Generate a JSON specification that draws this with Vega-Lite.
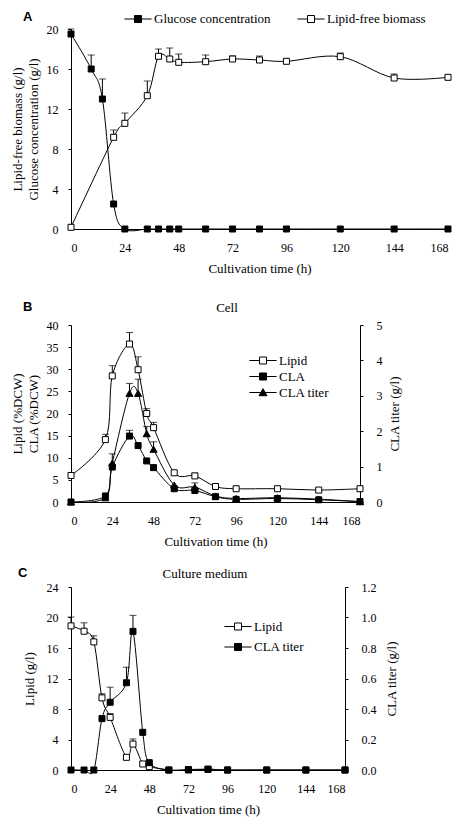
{
  "$schema": "https://vega.github.io/schema/vega-lite/v6.json",
  "padding": {"left": 11, "top": 10, "right": 5, "bottom": 5},
  "spacing": 19,
  "resolve": {"scale": {"fill": "independent", "shape": "independent", "stroke": "independent"}, "legend": {"fill": "independent", "shape": "independent", "stroke": "independent"}},
  "datasets": {
    "A": [
      {"s": "Glucose concentration", "t": 0, "v": 19.5, "hi": 20.0},
      {"s": "Glucose concentration", "t": 9, "v": 16.0, "hi": 17.4},
      {"s": "Glucose concentration", "t": 14, "v": 13.0, "hi": 15.0},
      {"s": "Glucose concentration", "t": 19, "v": 2.5},
      {"s": "Glucose concentration", "t": 24, "v": 0},
      {"s": "Glucose concentration", "t": 34, "v": 0},
      {"s": "Glucose concentration", "t": 39, "v": 0},
      {"s": "Glucose concentration", "t": 44, "v": 0},
      {"s": "Glucose concentration", "t": 48, "v": 0},
      {"s": "Glucose concentration", "t": 60, "v": 0},
      {"s": "Glucose concentration", "t": 72, "v": 0},
      {"s": "Glucose concentration", "t": 84, "v": 0},
      {"s": "Glucose concentration", "t": 96, "v": 0},
      {"s": "Glucose concentration", "t": 120, "v": 0},
      {"s": "Glucose concentration", "t": 144, "v": 0},
      {"s": "Glucose concentration", "t": 168, "v": 0},
      {"s": "Lipid-free biomass", "t": 0, "v": 0.17},
      {"s": "Lipid-free biomass", "t": 19, "v": 9.17, "hi": 9.9},
      {"s": "Lipid-free biomass", "t": 24, "v": 10.57, "hi": 11.6},
      {"s": "Lipid-free biomass", "t": 34, "v": 13.33, "hi": 14.8},
      {"s": "Lipid-free biomass", "t": 39, "v": 17.27, "hi": 18.0},
      {"s": "Lipid-free biomass", "t": 44, "v": 17.0, "hi": 18.1},
      {"s": "Lipid-free biomass", "t": 48, "v": 16.67, "hi": 17.5},
      {"s": "Lipid-free biomass", "t": 60, "v": 16.73, "hi": 17.4},
      {"s": "Lipid-free biomass", "t": 72, "v": 17.0, "hi": 17.3},
      {"s": "Lipid-free biomass", "t": 84, "v": 16.9, "hi": 17.3},
      {"s": "Lipid-free biomass", "t": 96, "v": 16.77},
      {"s": "Lipid-free biomass", "t": 120, "v": 17.23, "hi": 17.6},
      {"s": "Lipid-free biomass", "t": 144, "v": 15.1, "hi": 15.5},
      {"s": "Lipid-free biomass", "t": 168, "v": 15.17}
    ],
    "B": [
      {"s": "Lipid", "t": 0, "v": 6.0},
      {"s": "Lipid", "t": 20, "v": 14.1, "hi": 15.3},
      {"s": "Lipid", "t": 24, "v": 28.5, "hi": 30.8},
      {"s": "Lipid", "t": 34, "v": 35.7, "hi": 38.3},
      {"s": "Lipid", "t": 39, "v": 29.9, "hi": 32.8},
      {"s": "Lipid", "t": 44, "v": 20.0, "hi": 21.1},
      {"s": "Lipid", "t": 48, "v": 16.8, "hi": 18.0},
      {"s": "Lipid", "t": 60, "v": 6.6},
      {"s": "Lipid", "t": 72, "v": 5.9, "hi": 6.5},
      {"s": "Lipid", "t": 84, "v": 3.5},
      {"s": "Lipid", "t": 96, "v": 3.0},
      {"s": "Lipid", "t": 120, "v": 3.0},
      {"s": "Lipid", "t": 144, "v": 2.7},
      {"s": "Lipid", "t": 168, "v": 3.0},
      {"s": "CLA", "t": 0, "v": 0},
      {"s": "CLA", "t": 20, "v": 1.36},
      {"s": "CLA", "t": 24, "v": 7.9},
      {"s": "CLA", "t": 34, "v": 14.9, "hi": 16.2},
      {"s": "CLA", "t": 39, "v": 12.75},
      {"s": "CLA", "t": 44, "v": 9.28},
      {"s": "CLA", "t": 48, "v": 7.77},
      {"s": "CLA", "t": 60, "v": 3.0},
      {"s": "CLA", "t": 72, "v": 2.6},
      {"s": "CLA", "t": 84, "v": 1.2},
      {"s": "CLA", "t": 96, "v": 0.6},
      {"s": "CLA", "t": 120, "v": 0.8},
      {"s": "CLA", "t": 144, "v": 0.5},
      {"s": "CLA", "t": 168, "v": 0.1},
      {"s": "CLA titer", "t": 0, "v": 0},
      {"s": "CLA titer", "t": 20, "v": 0.12},
      {"s": "CLA titer", "t": 24, "v": 1.1, "hi": 1.36},
      {"s": "CLA titer", "t": 34, "v": 3.07, "hi": 3.35},
      {"s": "CLA titer", "t": 39, "v": 3.07, "hi": 3.47},
      {"s": "CLA titer", "t": 44, "v": 1.93, "hi": 2.13},
      {"s": "CLA titer", "t": 48, "v": 1.49, "hi": 1.7},
      {"s": "CLA titer", "t": 60, "v": 0.48},
      {"s": "CLA titer", "t": 72, "v": 0.42, "hi": 0.54},
      {"s": "CLA titer", "t": 84, "v": 0.17},
      {"s": "CLA titer", "t": 96, "v": 0.1},
      {"s": "CLA titer", "t": 120, "v": 0.12},
      {"s": "CLA titer", "t": 144, "v": 0.08},
      {"s": "CLA titer", "t": 168, "v": 0.01}
    ],
    "C": [
      {"s": "Lipid", "t": 0, "v": 18.9, "hi": 20.06},
      {"s": "Lipid", "t": 8, "v": 18.2, "hi": 19.3},
      {"s": "Lipid", "t": 14, "v": 16.8, "hi": 17.6},
      {"s": "Lipid", "t": 19, "v": 9.46, "hi": 10.0},
      {"s": "Lipid", "t": 24, "v": 6.9, "hi": 7.4},
      {"s": "Lipid", "t": 34, "v": 1.66},
      {"s": "Lipid", "t": 38, "v": 3.4, "hi": 4.07},
      {"s": "Lipid", "t": 44, "v": 0.79},
      {"s": "Lipid", "t": 48, "v": 0.44},
      {"s": "Lipid", "t": 60, "v": 0},
      {"s": "Lipid", "t": 72, "v": 0},
      {"s": "Lipid", "t": 84, "v": 0.1},
      {"s": "Lipid", "t": 96, "v": 0},
      {"s": "Lipid", "t": 120, "v": 0},
      {"s": "Lipid", "t": 144, "v": 0},
      {"s": "Lipid", "t": 168, "v": 0},
      {"s": "CLA  titer", "t": 0, "v": 0},
      {"s": "CLA  titer", "t": 8, "v": 0},
      {"s": "CLA  titer", "t": 14, "v": 0},
      {"s": "CLA  titer", "t": 19, "v": 0.337},
      {"s": "CLA  titer", "t": 24, "v": 0.444, "hi": 0.543},
      {"s": "CLA  titer", "t": 34, "v": 0.572, "hi": 0.674},
      {"s": "CLA  titer", "t": 38, "v": 0.909, "hi": 1.014},
      {"s": "CLA  titer", "t": 44, "v": 0.247},
      {"s": "CLA  titer", "t": 48, "v": 0.048},
      {"s": "CLA  titer", "t": 60, "v": 0},
      {"s": "CLA  titer", "t": 72, "v": 0.003},
      {"s": "CLA  titer", "t": 84, "v": 0.005},
      {"s": "CLA  titer", "t": 96, "v": 0},
      {"s": "CLA  titer", "t": 120, "v": 0},
      {"s": "CLA  titer", "t": 144, "v": 0},
      {"s": "CLA  titer", "t": 168, "v": 0}
    ]
  },
  "vconcat": [
    {
      "data": {"name": "A"},
      "width": 377,
      "height": 200,
      "title": {"text": "A", "anchor": "start", "frame": "group", "font": "Liberation Sans", "fontWeight": "bold", "fontSize": 13, "dx": -48, "dy": 18, "offset": 4},
      "encoding": {
        "x": {"field": "t", "type": "quantitative", "scale": {"domain": [0, 168], "nice": false}, "axis": {"values": [0, 24, 48, 72, 96, 120, 144, 168], "titleLineHeight": 7}, "title": ["Cultivation time (h)", " "]},
        "y": {"field": "v", "type": "quantitative", "scale": {"domain": [0, 20], "nice": false}, "axis": {"values": [0, 4, 8, 12, 16, 20]}, "title": ["Lipid-free biomass (g/l)", "Glucose concentration (g/l)"]}
      },
      "layer": [
        {"mark": {"type": "line", "interpolate": "cardinal", "color": "black", "strokeWidth": 1}, "encoding": {"detail": {"field": "s"}}},
        {"transform": [{"filter": "isValid(datum.hi)"}], "mark": {"type": "rule", "color": "black", "strokeWidth": 1}, "encoding": {"y2": {"field": "hi"}}},
        {"transform": [{"filter": "isValid(datum.hi)"}], "mark": {"type": "tick", "orient": "horizontal", "color": "black", "size": 7, "thickness": 1}, "encoding": {"y": {"field": "hi", "type": "quantitative", "title": ["Lipid-free biomass (g/l)", "Glucose concentration (g/l)"]}}},
        {
          "mark": {"type": "point", "shape": "square", "filled": true, "size": 36, "stroke": "black", "strokeWidth": 1, "opacity": 1},
          "encoding": {
            "fill": {
              "field": "s", "type": "nominal",
              "scale": {"domain": ["Glucose concentration", "Lipid-free biomass"], "range": ["black", "white"]},
              "legend": {
                "orient": "none", "direction": "horizontal", "legendX": 58, "legendY": -19, "columnPadding": 24,
                "symbolType": "M-1.6,0H-0.41M0.41,0H1.6M-0.41,-0.41H0.41V0.41H-0.41Z"
              }
            }
          }
        }
      ]
    },
    {
      "title": {"text": "Cell", "anchor": "middle", "frame": "bounds", "dx": 21, "dy": 14, "offset": 0},
      "vconcat": [
        {
          "data": {"name": "B"},
          "width": 289,
          "height": 177,
          "title": {"text": "B", "anchor": "start", "frame": "group", "font": "Liberation Sans", "fontWeight": "bold", "fontSize": 13, "dx": -48, "offset": 5},
          "encoding": {
            "x": {"field": "t", "type": "quantitative", "scale": {"domain": [0, 168], "nice": false}, "axis": {"values": [0, 24, 48, 72, 96, 120, 144, 168]}, "title": "Cultivation time (h)"}
          },
          "layer": [
            {
              "transform": [{"filter": "datum.s !== 'CLA titer'"}],
              "encoding": {"y": {"field": "v", "type": "quantitative", "scale": {"domain": [0, 40], "nice": false}, "axis": {"values": [0, 5, 10, 15, 20, 25, 30, 35, 40]}, "title": ["Lipid (%DCW)", "CLA (%DCW)"]}},
              "layer": [
                {"mark": {"type": "line", "interpolate": "cardinal", "color": "black", "strokeWidth": 1}, "encoding": {"detail": {"field": "s"}}},
                {"transform": [{"filter": "isValid(datum.hi)"}], "mark": {"type": "rule", "color": "black", "strokeWidth": 1}, "encoding": {"y2": {"field": "hi"}}},
                {"transform": [{"filter": "isValid(datum.hi)"}], "mark": {"type": "tick", "orient": "horizontal", "color": "black", "size": 7, "thickness": 1}, "encoding": {"y": {"field": "hi", "type": "quantitative", "title": ["Lipid (%DCW)", "CLA (%DCW)"]}}},
                {
                  "mark": {"type": "point", "shape": "square", "filled": true, "size": 36, "stroke": "black", "strokeWidth": 1, "opacity": 1},
                  "encoding": {
                    "fill": {
                      "field": "s", "type": "nominal",
                      "scale": {"domain": ["Lipid", "CLA", "CLA titer"], "range": ["white", "black", "black"]},
                      "legend": {"orient": "none", "direction": "vertical", "legendX": 183, "legendY": 26.5, "rowPadding": 0, "symbolOpacity": 1, "symbolSize": 289}
                    }
                  }
                }
              ]
            },
            {
              "transform": [{"filter": "datum.s === 'CLA titer'"}],
              "encoding": {"y": {"field": "v", "type": "quantitative", "scale": {"domain": [0, 5], "nice": false}, "axis": {"orient": "right", "values": [0, 1, 2, 3, 4, 5], "labelPadding": 13, "titleAngle": 270, "titleBaseline": "top"}, "title": "CLA titer (g/l)"}},
              "layer": [
                {"mark": {"type": "line", "interpolate": "cardinal", "color": "black", "strokeWidth": 1}, "encoding": {"detail": {"field": "s"}}},
                {"transform": [{"filter": "isValid(datum.hi)"}], "mark": {"type": "rule", "color": "black", "strokeWidth": 1}, "encoding": {"y2": {"field": "hi"}}},
                {"transform": [{"filter": "isValid(datum.hi)"}], "mark": {"type": "tick", "orient": "horizontal", "color": "black", "size": 7, "thickness": 1}, "encoding": {"y": {"field": "hi", "type": "quantitative", "title": "CLA titer (g/l)"}}},
                {
                  "mark": {"type": "point", "shape": "triangle-up", "filled": true, "size": 50, "stroke": "black", "strokeWidth": 1, "opacity": 1},
                  "encoding": {
                    "fill": {
                      "field": "s", "type": "nominal",
                      "scale": {"domain": ["Lipid", "CLA", "CLA titer"], "range": ["white", "black", "black"]},
                      "legend": {"orient": "none", "direction": "vertical", "legendX": 183, "legendY": 26.5, "rowPadding": 0, "symbolOpacity": 1, "symbolSize": 289}
                    }
                  }
                },
                {
                  "mark": {"type": "point", "filled": true, "size": 289, "opacity": 0, "strokeWidth": 1},
                  "encoding": {
                    "fill": {
                      "field": "s", "type": "nominal",
                      "scale": {"domain": ["Lipid", "CLA", "CLA titer"], "range": ["white", "black", "black"]},
                      "legend": {"orient": "none", "direction": "vertical", "legendX": 183, "legendY": 26.5, "rowPadding": 0, "symbolOpacity": 1, "symbolSize": 289}
                    },
                    "stroke": {
                      "field": "s", "type": "nominal",
                      "scale": {"domain": ["Lipid", "CLA", "CLA titer"], "range": ["black", "black", "black"]},
                      "legend": {"orient": "none", "direction": "vertical", "legendX": 183, "legendY": 26.5, "rowPadding": 0, "symbolOpacity": 1, "symbolSize": 289}
                    },
                    "shape": {
                      "field": "s", "type": "nominal",
                      "scale": {"domain": ["Lipid", "CLA", "CLA titer"], "range": ["M-1.6,0H-0.41M0.41,0H1.6M-0.41,-0.41H0.41V0.41H-0.41Z", "M-1.6,0H-0.41M0.41,0H1.6M-0.41,-0.41H0.41V0.41H-0.41Z", "M-1.6,0H1.6M0,-0.45L0.47,0.38H-0.47Z"]},
                      "legend": {"orient": "none", "direction": "vertical", "legendX": 183, "legendY": 26.5, "rowPadding": 0, "symbolOpacity": 1, "symbolSize": 289}
                    }
                  }
                }
              ]
            }
          ],
          "resolve": {"scale": {"y": "independent"}}
        }
      ]
    },
    {
      "title": {"text": "Culture medium", "anchor": "middle", "frame": "bounds", "dx": -3, "dy": 14, "offset": 0},
      "vconcat": [
        {
          "data": {"name": "C"},
          "width": 274,
          "height": 183,
          "title": {"text": "C", "anchor": "start", "frame": "group", "font": "Liberation Sans", "fontWeight": "bold", "fontSize": 13, "dx": -53, "offset": 1},
          "encoding": {
            "x": {"field": "t", "type": "quantitative", "scale": {"domain": [0, 168], "nice": false}, "axis": {"values": [0, 24, 48, 72, 96, 120, 144, 168]}, "title": "Cultivation time (h)"}
          },
          "layer": [
            {
              "transform": [{"filter": "datum.s === 'Lipid'"}],
              "encoding": {"y": {"field": "v", "type": "quantitative", "scale": {"domain": [0, 24], "nice": false}, "axis": {"values": [0, 4, 8, 12, 16, 20, 24], "titlePadding": 10}, "title": "Lipid (g/l)"}},
              "layer": [
                {"mark": {"type": "line", "interpolate": "cardinal", "color": "black", "strokeWidth": 1}, "encoding": {"detail": {"field": "s"}}},
                {"transform": [{"filter": "isValid(datum.hi)"}], "mark": {"type": "rule", "color": "black", "strokeWidth": 1}, "encoding": {"y2": {"field": "hi"}}},
                {"transform": [{"filter": "isValid(datum.hi)"}], "mark": {"type": "tick", "orient": "horizontal", "color": "black", "size": 7, "thickness": 1}, "encoding": {"y": {"field": "hi", "type": "quantitative", "title": "Lipid (g/l)"}}},
                {
                  "mark": {"type": "point", "shape": "square", "filled": true, "size": 36, "stroke": "black", "strokeWidth": 1, "opacity": 1},
                  "encoding": {
                    "fill": {
                      "field": "s", "type": "nominal",
                      "scale": {"domain": ["Lipid", "CLA  titer"], "range": ["white", "black"]},
                      "legend": {
                        "orient": "none", "direction": "vertical", "legendX": 158, "legendY": 30.5, "rowPadding": 4.5,
                        "symbolType": "M-1.6,0H-0.41M0.41,0H1.6M-0.41,-0.41H0.41V0.41H-0.41Z"
                      }
                    }
                  }
                }
              ]
            },
            {
              "transform": [{"filter": "datum.s !== 'Lipid'"}],
              "encoding": {"y": {"field": "v", "type": "quantitative", "scale": {"domain": [0, 1.2], "nice": false}, "axis": {"orient": "right", "values": [0, 0.2, 0.4, 0.6, 0.8, 1.0, 1.2], "format": ".1f", "labelPadding": 13, "titlePadding": 9, "titleAngle": 270, "titleBaseline": "top"}, "title": "CLA  titer  (g/l)"}},
              "layer": [
                {"mark": {"type": "line", "interpolate": "cardinal", "color": "black", "strokeWidth": 1}, "encoding": {"detail": {"field": "s"}}},
                {"transform": [{"filter": "isValid(datum.hi)"}], "mark": {"type": "rule", "color": "black", "strokeWidth": 1}, "encoding": {"y2": {"field": "hi"}}},
                {"transform": [{"filter": "isValid(datum.hi)"}], "mark": {"type": "tick", "orient": "horizontal", "color": "black", "size": 7, "thickness": 1}, "encoding": {"y": {"field": "hi", "type": "quantitative", "title": "CLA  titer  (g/l)"}}},
                {
                  "mark": {"type": "point", "shape": "square", "filled": true, "size": 36, "stroke": "black", "strokeWidth": 1, "opacity": 1},
                  "encoding": {
                    "fill": {
                      "field": "s", "type": "nominal",
                      "scale": {"domain": ["Lipid", "CLA  titer"], "range": ["white", "black"]}
                    }
                  }
                }
              ]
            }
          ],
          "resolve": {"scale": {"y": "independent"}}
        }
      ]
    }
  ],
  "config": {
    "font": "Liberation Serif",
    "view": {"stroke": null},
    "axis": {"grid": false, "domainColor": "black", "domainWidth": 1, "tickColor": "black", "tickSize": 3, "labelColor": "black", "titleColor": "black", "labelFont": "Liberation Serif", "titleFont": "Liberation Serif", "labelFontSize": 12, "titleFontSize": 13, "titleFontWeight": "normal"},
    "axisX": {"ticks": false, "labelPadding": 13, "titlePadding": 9},
    "axisY": {"labelPadding": 10, "titlePadding": 6, "titleLineHeight": 16},
    "legend": {"labelFont": "Liberation Serif", "labelFontSize": 13, "labelColor": "black", "title": null, "padding": 0, "symbolSize": 289, "labelOffset": 7, "symbolStrokeColor": "black", "symbolStrokeWidth": 1},
    "title": {"font": "Liberation Serif", "fontSize": 13, "fontWeight": "normal", "color": "black"}
  }
}
